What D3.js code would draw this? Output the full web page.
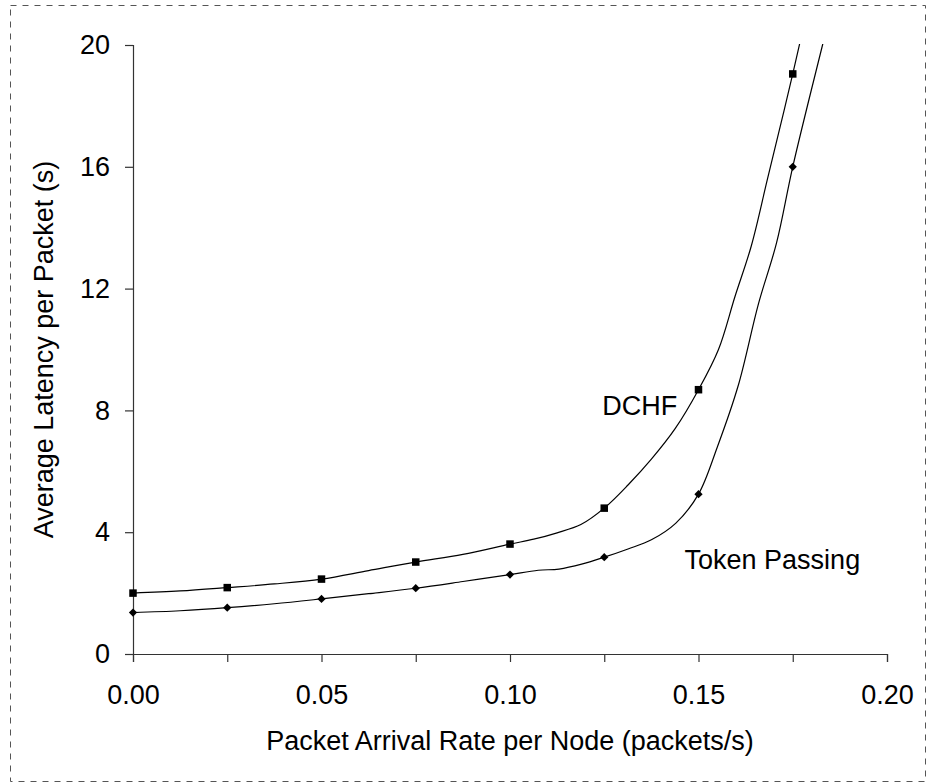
<!DOCTYPE html>
<html>
<head>
<meta charset="utf-8">
<script src="https://cdn.jsdelivr.net/npm/d3@7"></script>
<style>
  body { margin: 0; background: #fff; }
  text { font-family: "Liberation Sans", Arial, sans-serif; fill: #000; }
</style>
</head>
<body>
<div id="chart"></div>
<script>
// marker values (every 0.025 packets/s)
const rates = [0, 0.025, 0.05, 0.075, 0.1, 0.125, 0.15, 0.175];
const dchf = [2.0, 2.18, 2.46, 3.02, 3.61, 4.79, 8.68, 19.05];
const token = [1.36, 1.52, 1.81, 2.16, 2.61, 3.18, 5.25, 16.0];

// finer points the smoothed lines pass through
const dchfLineRates = [0, 0.0125, 0.025, 0.0375, 0.05, 0.0625, 0.075, 0.0875, 0.1, 0.1063, 0.1125, 0.1188, 0.125,
  0.1313, 0.1375, 0.1438, 0.15, 0.1553, 0.1597, 0.164, 0.1683, 0.175, 0.1813];
const dchfLine = [2.0, 2.07, 2.18, 2.3, 2.46, 2.74, 3.02, 3.27, 3.61, 3.77, 3.98, 4.25, 4.79,
  5.55, 6.4, 7.4, 8.68, 10.0, 11.75, 13.4, 15.6, 19.05, 22.5];
const tokenLineRates = [0, 0.0125, 0.025, 0.0375, 0.05, 0.0625, 0.075, 0.0875, 0.1, 0.1075, 0.113, 0.119, 0.125,
  0.1313, 0.1375, 0.144, 0.15, 0.155, 0.1605, 0.1659, 0.1707, 0.175, 0.1829, 0.19];
const tokenLine = [1.36, 1.42, 1.52, 1.65, 1.81, 1.98, 2.16, 2.38, 2.61, 2.75, 2.79, 2.95, 3.18,
  3.45, 3.75, 4.3, 5.25, 6.8, 8.8, 11.5, 13.5, 16.0, 20.0, 23.5];

const xTicks = [0, 0.025, 0.05, 0.075, 0.1, 0.125, 0.15, 0.175, 0.2];
const yTicks = [0, 4, 8, 12, 16, 20];

const W = 930, H = 784;
const margin = { top: 45, right: 43, bottom: 130, left: 133 };
const width = W - margin.left - margin.right;
const height = H - margin.top - margin.bottom;
const fontSize = '27px';

const svg = d3.select('#chart')
  .append('svg')
  .attr('width', W)
  .attr('height', H);

// dashed outer frame
svg.append('rect')
  .attr('x', 10.5).attr('y', 5.5)
  .attr('width', 915).attr('height', 776)
  .attr('fill', 'none')
  .attr('stroke', '#555')
  .attr('stroke-dasharray', '6,6');

const g = svg.append('g')
  .attr('transform', 'translate(' + margin.left + ',' + margin.top + ')');

const x = d3.scaleLinear().domain([0, 0.2]).range([0, width]);
const y = d3.scaleLinear().domain([0, 20]).range([height, 0]);

g.append('defs').append('clipPath').attr('id', 'plot')
  .append('rect').attr('x', 0).attr('y', -1).attr('width', width).attr('height', height + 1);

// X axis
const xAxis = g.append('g')
  .attr('transform', 'translate(0,' + height + ')')
  .call(d3.axisBottom(x).tickValues(xTicks).tickSizeOuter(0).tickSize(8).tickPadding(23)
    .tickFormat((d, i) => i % 2 === 0 ? d3.format('.2f')(d) : ''));
xAxis.selectAll('text').style('font-size', fontSize);

// Y axis
const yAxis = g.append('g')
  .call(d3.axisLeft(y).tickValues(yTicks).tickSizeOuter(0).tickSize(8).tickPadding(15));
yAxis.selectAll('text').style('font-size', fontSize);

g.selectAll('.domain, .tick line').attr('stroke', '#333').attr('stroke-width', 1.2);

// lines
const line = d3.line()
  .x(d => x(d[0]))
  .y(d => y(d[1]))
  .curve(d3.curveCatmullRom.alpha(0.5));

const lines = g.append('g').attr('clip-path', 'url(#plot)');
lines.append('path')
  .datum(dchfLineRates.map((r, i) => [r, dchfLine[i]]))
  .attr('d', line).attr('fill', 'none').attr('stroke', '#000').attr('stroke-width', 1.2);
lines.append('path')
  .datum(tokenLineRates.map((r, i) => [r, tokenLine[i]]))
  .attr('d', line).attr('fill', 'none').attr('stroke', '#000').attr('stroke-width', 1.2);

// markers
g.selectAll('.sq')
  .data(rates.map((r, i) => [r, dchf[i]]))
  .enter().append('rect')
  .attr('x', d => x(d[0]) - 3.75)
  .attr('y', d => y(d[1]) - 3.75)
  .attr('width', 7.5).attr('height', 7.5)
  .attr('fill', '#000');

g.selectAll('.dia')
  .data(rates.map((r, i) => [r, token[i]]))
  .enter().append('path')
  .attr('d', d3.symbol().type(d3.symbolSquare).size(34))
  .attr('transform', d => 'translate(' + x(d[0]) + ',' + y(d[1]) + ') rotate(45)')
  .attr('fill', '#000');

// series labels
g.append('text').attr('x', x(0.1245)).attr('y', y(7.85)).attr('text-anchor', 'start')
  .style('font-size', fontSize).text('DCHF');
g.append('text').attr('x', x(0.1463)).attr('y', y(2.8)).attr('text-anchor', 'start')
  .style('font-size', fontSize).text('Token Passing');

// axis titles
svg.append('text')
  .attr('x', margin.left + width / 2).attr('y', 750)
  .attr('text-anchor', 'middle').style('font-size', fontSize)
  .text('Packet Arrival Rate per Node (packets/s)');

svg.append('text')
  .attr('transform', 'translate(53,' + (margin.top + height / 2) + ') rotate(-90)')
  .attr('text-anchor', 'middle').style('font-size', fontSize)
  .text('Average Latency per Packet (s)');
</script>
</body>
</html>
